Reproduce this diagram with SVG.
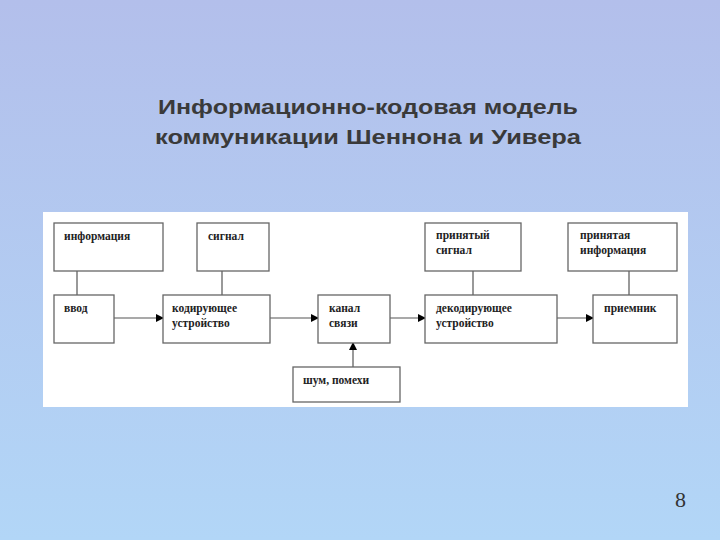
<svg xmlns="http://www.w3.org/2000/svg" width="720" height="540" viewBox="0 0 720 540">
<defs>
<linearGradient id="bg" x1="0" y1="0" x2="0" y2="1"><stop offset="0" stop-color="#b3bfeb"/><stop offset="1" stop-color="#b2d6f7"/></linearGradient>
<marker id="ar" markerWidth="8" markerHeight="8" refX="7" refY="4" orient="auto" markerUnits="userSpaceOnUse"><path d="M0,0 L8,4 L0,8 Z" fill="#000"/></marker>
<style>
.b{fill:#fff;stroke:#666;stroke-width:1.3}
.t{font-family:"Liberation Serif",serif;font-weight:bold;font-size:11.5px;fill:#222}
.c{stroke:#555;stroke-width:1.2;fill:none}
.h{font-family:"Liberation Sans",sans-serif;font-weight:bold;font-size:21px;fill:#3a3a3a}
</style>
</defs>
<rect width="720" height="540" fill="url(#bg)"/>
<text class="h" x="158" y="114" textLength="420" lengthAdjust="spacingAndGlyphs">Информационно-кодовая модель</text>
<text class="h" x="155" y="144" textLength="426" lengthAdjust="spacingAndGlyphs">коммуникации Шеннона и Уивера</text>
<rect x="43" y="212" width="645" height="195" fill="#fff"/>
<g id="connectors">
<line class="c" x1="77" y1="271" x2="77" y2="295"/>
<line class="c" x1="222" y1="271" x2="222" y2="295"/>
<line class="c" x1="473" y1="271" x2="473" y2="295"/>
<line class="c" x1="629" y1="271" x2="629" y2="295"/>
<line class="c" x1="114" y1="318" x2="163" y2="318" marker-end="url(#ar)"/>
<line class="c" x1="270" y1="318" x2="318" y2="318" marker-end="url(#ar)"/>
<line class="c" x1="390" y1="318" x2="425" y2="318" marker-end="url(#ar)"/>
<line class="c" x1="557" y1="318" x2="593" y2="318" marker-end="url(#ar)"/>
<line class="c" x1="353" y1="367" x2="353" y2="343" marker-end="url(#ar)"/>
</g>
<g id="n1"><rect class="b" x="54" y="223" width="109" height="48"/><text class="t" x="64" y="240">информация</text></g>
<g id="n2"><rect class="b" x="197" y="223" width="72" height="48"/><text class="t" x="208" y="240">сигнал</text></g>
<g id="n3"><rect class="b" x="425" y="223" width="96" height="48"/><text class="t" x="436" y="239">принятый</text><text class="t" x="436" y="254">сигнал</text></g>
<g id="n4"><rect class="b" x="568" y="223" width="109" height="48"/><text class="t" x="580" y="239">принятая</text><text class="t" x="580" y="254">информация</text></g>
<g id="n5"><rect class="b" x="54" y="295" width="60" height="48"/><text class="t" x="64" y="312">ввод</text></g>
<g id="n6"><rect class="b" x="163" y="295" width="107" height="48"/><text class="t" x="172" y="312">кодирующее</text><text class="t" x="172" y="327">устройство</text></g>
<g id="n7"><rect class="b" x="318" y="295" width="72" height="48"/><text class="t" x="329" y="312">канал</text><text class="t" x="329" y="327">связи</text></g>
<g id="n8"><rect class="b" x="425" y="295" width="132" height="48"/><text class="t" x="436" y="312">декодирующее</text><text class="t" x="436" y="327">устройство</text></g>
<g id="n9"><rect class="b" x="593" y="295" width="84" height="48"/><text class="t" x="604" y="312">приемник</text></g>
<g id="n10"><rect class="b" x="293" y="367" width="107" height="35"/><text class="t" x="303" y="384">шум, помехи</text></g>
<text x="686" y="507" text-anchor="end" font-family="Liberation Serif,serif" font-size="22" fill="#333">8</text>
</svg>
